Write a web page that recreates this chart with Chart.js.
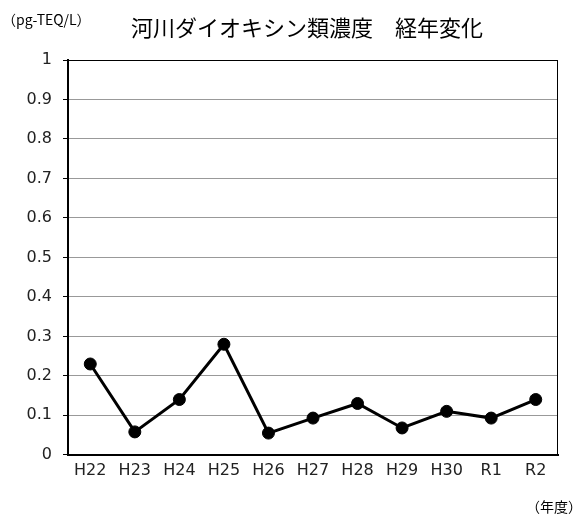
<!DOCTYPE html>
<html><head><meta charset="utf-8">
<script src="https://cdn.jsdelivr.net/npm/chart.js@4"></script>
<style>html,body{margin:0;padding:0;background:#fff}#wrap{width:586px;height:517px}</style>
</head><body><div id="wrap"><canvas id="c"></canvas></div>
<script>
const categories = ['H22','H23','H24','H25','H26','H27','H28','H29','H30','R1','R2'];
const values = [0.23, 0.058, 0.14, 0.28, 0.055, 0.093, 0.13, 0.068, 0.11, 0.093, 0.14];
const yTicks = [0, 0.1, 0.2, 0.3, 0.4, 0.5, 0.6, 0.7, 0.8, 0.9, 1];
const titleText = '河川ダイオキシン類濃度　経年変化';
const unitText = '（pg-TEQ/L）';
const xUnitText = '（年度）';

const textPlugin = {
  id: 'texts',
  afterDraw(chart) {
    const ctx = chart.ctx, a = chart.chartArea;
    ctx.save();
    ctx.strokeStyle = '#000'; ctx.lineWidth = 1;
    ctx.strokeRect(a.left + 0.5, a.top + 0.5, a.right - a.left - 1, a.bottom - a.top);
    ctx.fillStyle = '#000';
    ctx.textBaseline = 'middle';
    ctx.font = '22px "Noto Sans CJK JP"';
    ctx.textAlign = 'center';
    ctx.fillText(titleText, 307, 28);
    ctx.font = '14px "Noto Sans CJK JP"';
    ctx.textAlign = 'left';
    ctx.fillText(unitText, 2, 20);
    ctx.textAlign = 'right';
    ctx.fillText(xUnitText, 582, 507);
    ctx.restore();
  }
};

new Chart(document.getElementById('c'), {
  type: 'line',
  data: { labels: categories, datasets: [{
    data: values, borderColor: '#000', backgroundColor: '#000', borderWidth: 3,
    pointRadius: 6, pointHoverRadius: 6, pointBorderWidth: 1, tension: 0, clip: false
  }]},
  options: {
    responsive: true, maintainAspectRatio: false, animation: false,
    layout: { padding: { top: 60, right: 28, bottom: 31, left: 0 } },
    plugins: { legend: { display: false }, tooltip: { enabled: false } },
    scales: {
      x: {
        offset: true,
        grid: { display: false, drawTicks: false },
        border: { display: true, color: '#000', width: 2 },
        ticks: { color: '#222', font: { family: '"DejaVu Sans", Verdana, sans-serif', size: 16 }, padding: 6, maxRotation: 0 }
      },
      y: {
        min: 0, max: 1,
        afterBuildTicks(s) { s.ticks = yTicks.map(v => ({ value: v })); },
        afterFit(s) { s.width = 68; },
        grid: { color: '#999', tickColor: '#000', tickLength: 5, lineWidth: 1 },
        border: { display: true, color: '#000', width: 2 },
        ticks: { color: '#222', font: { family: '"DejaVu Sans", Verdana, sans-serif', size: 16 }, padding: 11,
          callback: v => String(v) }
      }
    }
  },
  plugins: [textPlugin]
});
</script></body></html>
